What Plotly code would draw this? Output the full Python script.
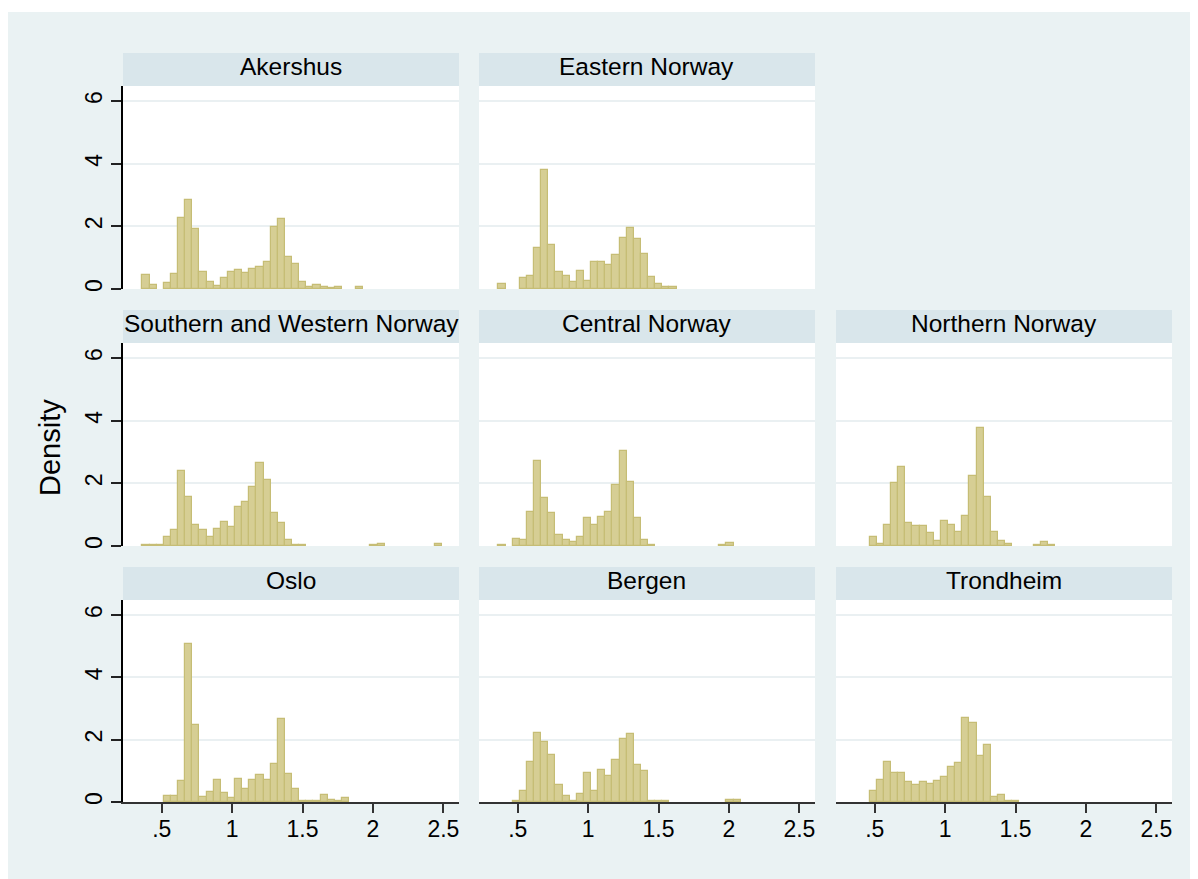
import plotly.graph_objects as go

# Histogram bins shared by all regions (density scale)
BIN_START = 0.363
BIN_WIDTH = 0.0506
N_BINS = 42

regions = ["Akershus", "Eastern Norway", "Southern and Western Norway",
           "Central Norway", "Northern Norway", "Oslo", "Bergen", "Trondheim"]

akershus = [0.44, 0.12, 0, 0.18, 0.47, 2.26, 2.84, 1.91, 0.53, 0.21, 0.09, 0.34, 0.53, 0.60,
            0.50, 0.63, 0.69, 0.85, 1.97, 2.23, 1.01, 0.79, 0.21, 0.05, 0.12, 0.05, 0.04, 0.06,
            0, 0, 0.06, 0, 0, 0, 0, 0, 0, 0, 0, 0, 0, 0]
eastern = [0.15, 0, 0, 0.34, 0.41, 1.30, 3.80, 1.40, 0.53, 0.41, 0.21, 0.57, 0.25, 0.85,
           0.85, 0.76, 1.08, 1.62, 1.94, 1.59, 1.11, 0.37, 0.15, 0.05, 0.05, 0, 0, 0,
           0, 0, 0, 0, 0, 0, 0, 0, 0, 0, 0, 0, 0, 0]
southern_western = [0.04, 0.04, 0.04, 0.30, 0.52, 2.38, 1.56, 0.68, 0.52, 0.30, 0.55, 0.78, 0.62, 1.23,
                    1.42, 1.87, 2.64, 2.12, 1.04, 0.72, 0.20, 0.04, 0.04, 0, 0, 0, 0, 0,
                    0, 0, 0, 0, 0.04, 0.05, 0, 0, 0, 0, 0, 0, 0, 0.05]
central = [0.04, 0, 0.23, 0.20, 1.07, 2.70, 1.52, 1.04, 0.36, 0.20, 0.14, 0.30, 0.88, 0.68,
           0.94, 1.07, 1.96, 3.02, 2.03, 0.88, 0.20, 0.04, 0, 0, 0, 0, 0, 0,
           0, 0, 0, 0.04, 0.11, 0, 0, 0, 0, 0, 0, 0, 0, 0]
northern = [0, 0, 0.30, 0.07, 0.68, 2.00, 2.51, 0.75, 0.65, 0.65, 0.43, 0.17, 0.81, 0.68,
            0.46, 0.97, 2.22, 3.76, 1.58, 0.46, 0.17, 0.07, 0, 0, 0, 0.04, 0.14, 0.04,
            0, 0, 0, 0, 0, 0, 0, 0, 0, 0, 0, 0, 0, 0]
oslo = [0, 0, 0, 0.19, 0.19, 0.67, 5.07, 2.47, 0.16, 0.32, 0.71, 0.29, 0.13, 0.74,
        0.42, 0.71, 0.87, 0.71, 1.22, 2.66, 0.90, 0.42, 0.03, 0.03, 0.03, 0.22, 0.06, 0.03,
        0.13, 0, 0, 0, 0, 0, 0, 0, 0, 0, 0, 0, 0, 0]
bergen = [0, 0, 0.03, 0.35, 1.28, 2.21, 1.93, 1.51, 0.55, 0.19, 0.03, 0.26, 0.93, 0.35,
          1.03, 0.83, 1.35, 2.02, 2.18, 1.19, 0.99, 0.03, 0.03, 0.03, 0, 0, 0, 0,
          0, 0, 0, 0, 0.06, 0.06, 0, 0, 0, 0, 0, 0, 0, 0]
trondheim = [0, 0, 0.35, 0.71, 1.28, 0.93, 0.93, 0.64, 0.55, 0.64, 0.58, 0.67, 0.80, 1.12,
             1.25, 2.70, 2.53, 1.48, 1.83, 0.16, 0.22, 0.03, 0.03, 0, 0, 0, 0, 0,
             0, 0, 0, 0, 0, 0, 0, 0, 0, 0, 0, 0, 0, 0]

densities = [akershus, eastern, southern_western, central, northern, oslo, bergen, trondheim]
# grid cell (row, col) of each region
cells = [(0, 0), (0, 1), (1, 0), (1, 1), (1, 2), (2, 0), (2, 1), (2, 2)]

x_ticks = [0.5, 1, 1.5, 2, 2.5]
x_tick_text = [".5", "1", "1.5", "2", "2.5"]
y_ticks = [0, 2, 4, 6]
y_tick_text = ["0", "2", "4", "6"]

W, H = 1198, 879
FONT = "Liberation Sans, Arial, sans-serif"
BG = "#EAF2F3"
STRIP = "#D9E6EB"
BAR_FILL = "rgb(214,206,148)"
BAR_LINE = "rgb(198,189,117)"

# pixel layout of the panel grid
col_px = [(123, 459), (479, 815), (836, 1172)]
row_px = [(86, 289), (343, 546), (600, 802)]
STRIP_H = 33


def fx(px):
    return px / W


def fy(py):
    return 1 - py / H


centers = [BIN_START + BIN_WIDTH * (k + 0.5) for k in range(N_BINS)]

fig = go.Figure()
shapes = [dict(type="rect", xref="paper", yref="paper", x0=fx(8), x1=fx(1190),
               y0=fy(879), y1=fy(12), fillcolor=BG, line=dict(width=0), layer="below")]
annotations = []
layout_axes = {}

for i, (name, dens, (r, c)) in enumerate(zip(regions, densities, cells)):
    n = i + 1
    xa = "x" if n == 1 else f"x{n}"
    ya = "y" if n == 1 else f"y{n}"
    heights = [v if v > 0 else None for v in dens]
    fig.add_trace(go.Bar(
        x=centers, y=heights, width=BIN_WIDTH, xaxis=xa, yaxis=ya,
        marker=dict(color=BAR_FILL, line=dict(color=BAR_LINE, width=1.2)),
        showlegend=False, hoverinfo="x+y"))

    x0, x1 = col_px[c]
    y0, y1 = row_px[r]
    bottom = r == 2
    left = c == 0
    layout_axes["xaxis" if n == 1 else f"xaxis{n}"] = dict(
        domain=[fx(x0), fx(x1)], anchor=ya, range=[0.225, 2.611],
        tickvals=x_ticks, ticktext=x_tick_text, showticklabels=bottom,
        ticks="outside" if bottom else "", ticklen=9, tickwidth=2, tickcolor="#333333",
        ticklabelstandoff=-4,
        showline=bottom, linecolor="#333333", linewidth=2,
        showgrid=False, zeroline=False, automargin=False,
        tickfont=dict(family=FONT, size=23, color="#000000"))
    layout_axes["yaxis" if n == 1 else f"yaxis{n}"] = dict(
        domain=[fy(y1), fy(y0)], anchor=xa, range=[0, 6.48],
        tickvals=y_ticks, ticktext=y_tick_text, showticklabels=left,
        ticks="outside" if left else "", ticklen=10, tickwidth=2, tickcolor="#222222",
        tickangle=-90,
        showline=left, linecolor="#000000", linewidth=1.5,
        showgrid=True, gridcolor="#EAF0F2", gridwidth=2, zeroline=False, automargin=False,
        tickfont=dict(family=FONT, size=23, color="#000000"))

    # white plot region and title strip
    shapes.append(dict(type="rect", xref="paper", yref="paper", x0=fx(x0), x1=fx(x1),
                       y0=fy(y1), y1=fy(y0), fillcolor="white", line=dict(width=0),
                       layer="below"))
    shapes.append(dict(type="rect", xref="paper", yref="paper", x0=fx(x0), x1=fx(x1),
                       y0=fy(y0), y1=fy(y0 - STRIP_H), fillcolor=STRIP, line=dict(width=0),
                       layer="below"))
    annotations.append(dict(text=name, xref="paper", yref="paper",
                            x=fx((x0 + x1) / 2), y=fy(y0 - STRIP_H / 2 - 3),
                            xanchor="center", yanchor="middle", showarrow=False,
                            font=dict(family=FONT, size=24.5, color="#000000")))

annotations.append(dict(text="Density", xref="paper", yref="paper", x=fx(50), y=fy(448),
                        xanchor="center", yanchor="middle", textangle=-90, showarrow=False,
                        font=dict(family=FONT, size=29, color="#000000")))

fig.update_layout(
    width=W, height=H, margin=dict(l=0, r=0, t=0, b=0),
    paper_bgcolor="white", plot_bgcolor="rgba(0,0,0,0)",
    barmode="overlay", bargap=0, showlegend=False,
    shapes=shapes, annotations=annotations, **layout_axes)

fig.write_html("out.html")
